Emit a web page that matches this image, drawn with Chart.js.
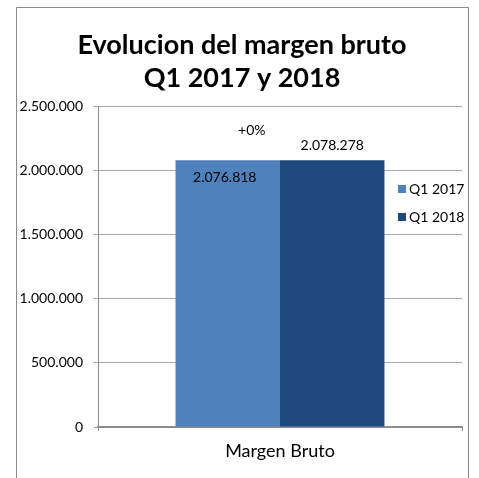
<!DOCTYPE html>
<html>
<head>
<meta charset="utf-8">
<script src="https://cdn.jsdelivr.net/npm/chart.js@4/dist/chart.umd.min.js"></script>
<style>
  html, body { margin: 0; padding: 0; background: #fff; }
  #wrap { width: 479px; height: 478px; }
</style>
</head>
<body>
<div id="wrap"><canvas id="chart" width="479" height="478"></canvas></div>
<script>
// Chart data
const categories = ['Margen Bruto'];
const seriesNames = ['Q1 2017', 'Q1 2018'];
const q1_2017 = [2076818];
const q1_2018 = [2078278];
const yTicks = [0, 500000, 1000000, 1500000, 2000000, 2500000];
const titleLines = ['Evolucion del margen bruto', 'Q1 2017 y 2018'];

const colors = ['#4f81bd', '#1f497d'];
const FONT = 'Lato, "Open Sans", sans-serif';

function fmt(n) {
  return String(n).replace(/\B(?=(\d{3})+(?!\d))/g, '.');
}

// Draws the outer frame, title, legend and value labels
const decorPlugin = {
  id: 'decor',
  beforeDraw(chart) {
    const ctx = chart.ctx;
    ctx.save();
    ctx.fillStyle = '#fff';
    ctx.fillRect(0, 0, chart.width, chart.height);
    ctx.strokeStyle = '#8c8c8c';
    ctx.lineWidth = 1;
    ctx.beginPath();
    ctx.moveTo(16.5, chart.height + 2);
    ctx.lineTo(16.5, 7.5);
    ctx.lineTo(468.5, 7.5);
    ctx.lineTo(468.5, chart.height + 2);
    ctx.stroke();
    ctx.restore();
  },
  afterDraw(chart) {
    const ctx = chart.ctx;
    ctx.save();
    // title
    ctx.fillStyle = '#000';
    ctx.textAlign = 'center';
    ctx.textBaseline = 'middle';
    ctx.font = 'bold 27px ' + FONT;
    ctx.fillText(titleLines[0], 242, 45);
    ctx.fillText(titleLines[1], 242, 78);

    // value labels
    const m0 = chart.getDatasetMeta(0).data[0];
    const m1 = chart.getDatasetMeta(1).data[0];
    ctx.font = '14px ' + FONT;
    ctx.fillText(fmt(q1_2017[0]), m0.x - 3, m0.y + 17);
    ctx.fillText(fmt(q1_2018[0]), m1.x, m1.y - 15);
    const pct = Math.round((q1_2018[0] / q1_2017[0] - 1) * 100);
    ctx.fillText((pct >= 0 ? '+' : '') + pct + '%', m0.x + 24, m1.y - 30);

    // legend
    ctx.textAlign = 'left';
    seriesNames.forEach((name, i) => {
      const y = 189 + i * 28;
      ctx.fillStyle = colors[i];
      ctx.fillRect(398, y - 4, 8, 8);
      ctx.fillStyle = '#000';
      ctx.fillText(name, 409, y);
    });
    ctx.restore();
  }
};

new Chart(document.getElementById('chart'), {
  type: 'bar',
  data: {
    labels: categories,
    datasets: [
      { label: seriesNames[0], data: q1_2017, backgroundColor: colors[0], barPercentage: 1, categoryPercentage: 0.574 },
      { label: seriesNames[1], data: q1_2018, backgroundColor: colors[1], barPercentage: 1, categoryPercentage: 0.574 }
    ]
  },
  options: {
    responsive: false,
    animation: false,
    layout: { padding: { top: 106, right: 17, left: 0, bottom: 0 } },
    plugins: {
      legend: { display: false },
      title: { display: false },
      tooltip: { enabled: false }
    },
    scales: {
      x: {
        afterFit(scale) { scale.height = 51; },
        grid: { drawOnChartArea: false, tickLength: 4, color: '#8c8c8c' },
        border: { color: '#8c8c8c', width: 2 },
        ticks: { color: '#000', font: { family: FONT, size: 18 }, padding: 9 }
      },
      y: {
        min: 0,
        max: 2500000,
        afterFit(scale) { scale.width = 98; },
        afterBuildTicks(scale) { scale.ticks = yTicks.map(v => ({ value: v })); },
        grid: { color: '#a6a6a6', tickLength: 4, lineWidth: 1 },
        border: { color: '#8c8c8c' },
        ticks: {
          color: '#000',
          font: { family: FONT, size: 14 },
          padding: 11,
          callback: v => fmt(v)
        }
      }
    }
  },
  plugins: [decorPlugin]
});
</script>
</body>
</html>
